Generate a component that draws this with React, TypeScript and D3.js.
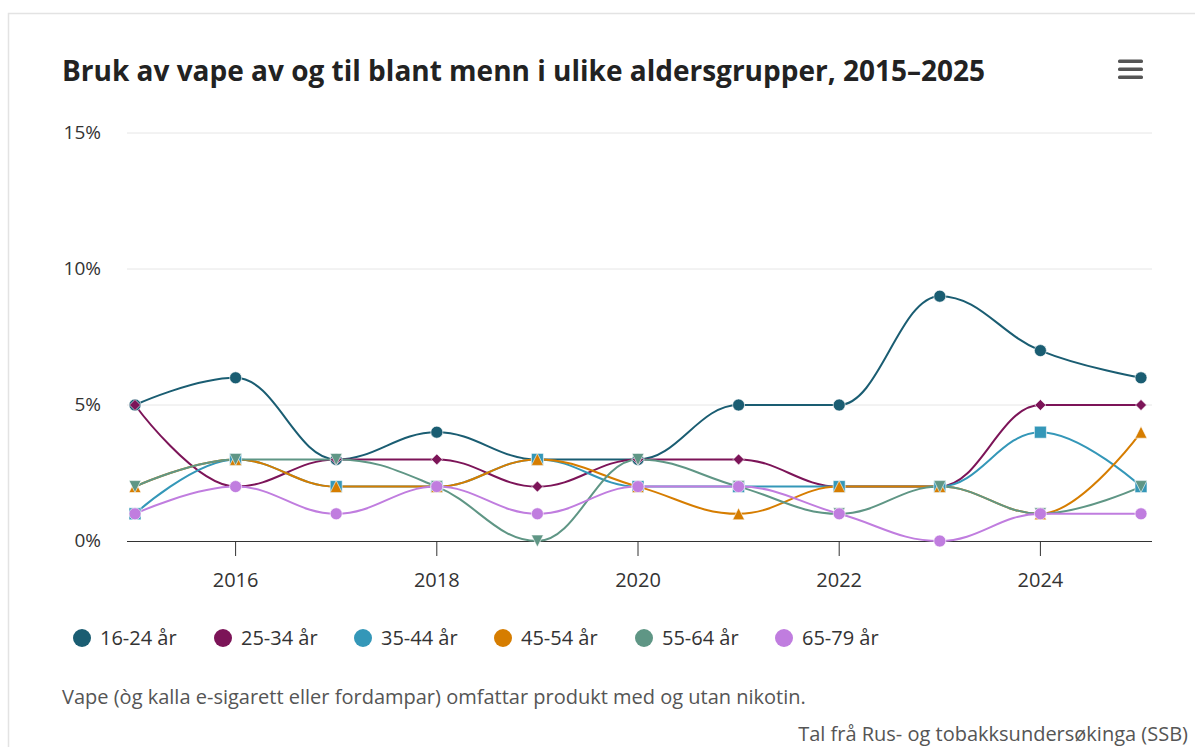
import React from "react";
import * as d3 from "d3";

const years = [2015, 2016, 2017, 2018, 2019, 2020, 2021, 2022, 2023, 2024, 2025];
const seriesNames = ["16-24 år", "25-34 år", "35-44 år", "45-54 år", "55-64 år", "65-79 år"];
const seriesColors = ["#1a5d72", "#7c1458", "#3497b8", "#d67d00", "#5f9685", "#c07ddf"];
const seriesSymbols = ["circle", "diamond", "square", "triangle", "triangle-down", "circle"];

const v1624 = [5, 6, 3, 4, 3, 3, 5, 5, 9, 7, 6];
const v2534 = [5, 2, 3, 3, 2, 3, 3, 2, 2, 5, 5];
const v3544 = [1, 3, 2, 2, 3, 2, 2, 2, 2, 4, 2];
const v4554 = [2, 3, 2, 2, 3, 2, 1, 2, 2, 1, 4];
const v5564 = [2, 3, 3, 2, 0, 3, 2, 1, 2, 1, 2];
const v6579 = [1, 2, 1, 2, 1, 2, 2, 1, 0, 1, 1];
const seriesValues = [v1624, v2534, v3544, v4554, v5564, v6579];

const yTicks = [0, 5, 10, 15];
const xTicks = [2016, 2018, 2020, 2022, 2024];

const title = "Bruk av vape av og til blant menn i ulike aldersgrupper, 2015–2025";
const note = "Vape (òg kalla e-sigarett eller fordampar) omfattar produkt med og utan nikotin.";
const credit = "Tal frå Rus- og tobakksundersøkinga (SSB)";

const W = 1195;
const H = 747;
const plotLeft = 127;
const plotRight = 1152;
const plotTop = 133;
const plotBottom = 541;
const FONT = "'Open Sans', 'Noto Sans', sans-serif";

// Highcharts-style spline path
function splinePath(pts: [number, number][]): string {
  const smoothing = 1.5;
  const denom = smoothing + 1;
  const ctrl: { lx: number; ly: number; rx: number; ry: number }[] = pts.map(([x, y]) => ({ lx: x, ly: y, rx: x, ry: y }));
  for (let i = 1; i < pts.length - 1; i++) {
    const [lastX, lastY] = pts[i - 1];
    const [px, py] = pts[i];
    const [nextX, nextY] = pts[i + 1];
    const leftContX = (smoothing * px + lastX) / denom;
    let leftContY = (smoothing * py + lastY) / denom;
    const rightContX = (smoothing * px + nextX) / denom;
    let rightContY = (smoothing * py + nextY) / denom;
    let correction = 0;
    if (rightContX !== leftContX) {
      correction = ((rightContY - leftContY) * (rightContX - px)) / (rightContX - leftContX) + py - rightContY;
    }
    leftContY += correction;
    rightContY += correction;
    if (leftContY > lastY && leftContY > py) {
      leftContY = Math.max(lastY, py);
      rightContY = 2 * py - leftContY;
    } else if (leftContY < lastY && leftContY < py) {
      leftContY = Math.min(lastY, py);
      rightContY = 2 * py - leftContY;
    }
    if (rightContY > nextY && rightContY > py) {
      rightContY = Math.max(nextY, py);
      leftContY = 2 * py - rightContY;
    } else if (rightContY < nextY && rightContY < py) {
      rightContY = Math.min(nextY, py);
      leftContY = 2 * py - rightContY;
    }
    ctrl[i] = { lx: leftContX, ly: leftContY, rx: rightContX, ry: rightContY };
  }
  const path = d3.path();
  path.moveTo(pts[0][0], pts[0][1]);
  for (let i = 1; i < pts.length; i++) {
    path.bezierCurveTo(ctrl[i - 1].rx, ctrl[i - 1].ry, ctrl[i].lx, ctrl[i].ly, pts[i][0], pts[i][1]);
  }
  return path.toString();
}

function Marker({ symbol, x, y, r, color }: { symbol: string; x: number; y: number; r: number; color: string }) {
  const common = { fill: color, stroke: "rgba(255,255,255,0.6)", strokeWidth: 1 };
  if (symbol === "circle") return <circle cx={x} cy={y} r={r} {...common} />;
  if (symbol === "square") return <rect x={x - r} y={y - r} width={2 * r} height={2 * r} {...common} />;
  if (symbol === "diamond") {
    const d = r - 0.5;
    return <path d={`M${x},${y - d}L${x + d},${y}L${x},${y + d}L${x - d},${y}Z`} {...common} />;
  }
  if (symbol === "triangle") return <path d={`M${x},${y - r}L${x + r},${y + r}L${x - r},${y + r}Z`} {...common} />;
  return <path d={`M${x - r},${y - r}L${x + r},${y - r}L${x},${y + r}Z`} {...common} />;
}

export default function App() {
  const x = d3.scaleLinear().domain([2015, 2025]).range([135, 1141]);
  const y = d3.scaleLinear().domain([0, 15]).range([plotBottom, plotTop]);
  const legendX = [82, 223, 363, 503, 644, 784];

  return (
    <svg
      width={W}
      height={H}
      style={{ position: "absolute", left: 0, top: 0, display: "block", background: "#ffffff" }}
      fontFamily={FONT}
    >
      <rect x={0} y={0} width={W} height={H} fill="#ffffff" />
      <rect x={8.5} y={13.5} width={W + 20} height={H + 20} fill="#ffffff" stroke="#e3e3e3" strokeWidth={1.5} />
      <text x={62} y={81} fontSize={28} fontWeight={700} fill="#222222">{title}</text>
      {/* menu icon */}
      {[61, 69, 77].map((yy) => (
        <rect key={yy} x={1118} y={yy - 1.5} width={25} height={3.5} rx={1.5} fill="#555555" />
      ))}

      {yTicks.map((t) => (
        <g key={t}>
          {t > 0 && <line x1={plotLeft} x2={plotRight} y1={y(t)} y2={y(t)} stroke="#e6e6e6" strokeWidth={1} />}
          <text x={101} y={y(t) + 6} textAnchor="end" fontSize={19} fill="#333333">{`${t}%`}</text>
        </g>
      ))}
      <line x1={plotLeft} x2={plotRight} y1={plotBottom + 0.5} y2={plotBottom + 0.5} stroke="#333333" strokeWidth={1} />
      {xTicks.map((t) => (
        <g key={t}>
          <line x1={x(t)} x2={x(t)} y1={plotBottom} y2={plotBottom + 15} stroke="#333333" strokeWidth={1} />
          <text x={x(t)} y={587} textAnchor="middle" fontSize={20} fill="#333333">{t}</text>
        </g>
      ))}

      {seriesValues.map((vals, si) => {
        const pts = vals.map((v, i) => [x(years[i]), y(v)] as [number, number]);
        return (
          <path key={si} d={splinePath(pts)} fill="none" stroke={seriesColors[si]} strokeWidth={2} strokeLinejoin="round" strokeLinecap="round" />
        );
      })}
      {seriesValues.map((vals, si) => (
        <g key={si}>
          {vals.map((v, i) => (
            <Marker key={i} symbol={seriesSymbols[si]} x={x(years[i])} y={y(v)} r={6} color={seriesColors[si]} />
          ))}
        </g>
      ))}

      {seriesNames.map((n, i) => (
        <g key={n}>
          <circle cx={legendX[i]} cy={638} r={9} fill={seriesColors[i]} />
          <text x={legendX[i] + 18} y={645} fontSize={20} fill="#333333">{n}</text>
        </g>
      ))}

      <text x={62} y={704} fontSize={20} fill="#555555">{note}</text>
      <text x={1188} y={741} textAnchor="end" fontSize={20} fill="#555555">{credit}</text>
    </svg>
  );
}
